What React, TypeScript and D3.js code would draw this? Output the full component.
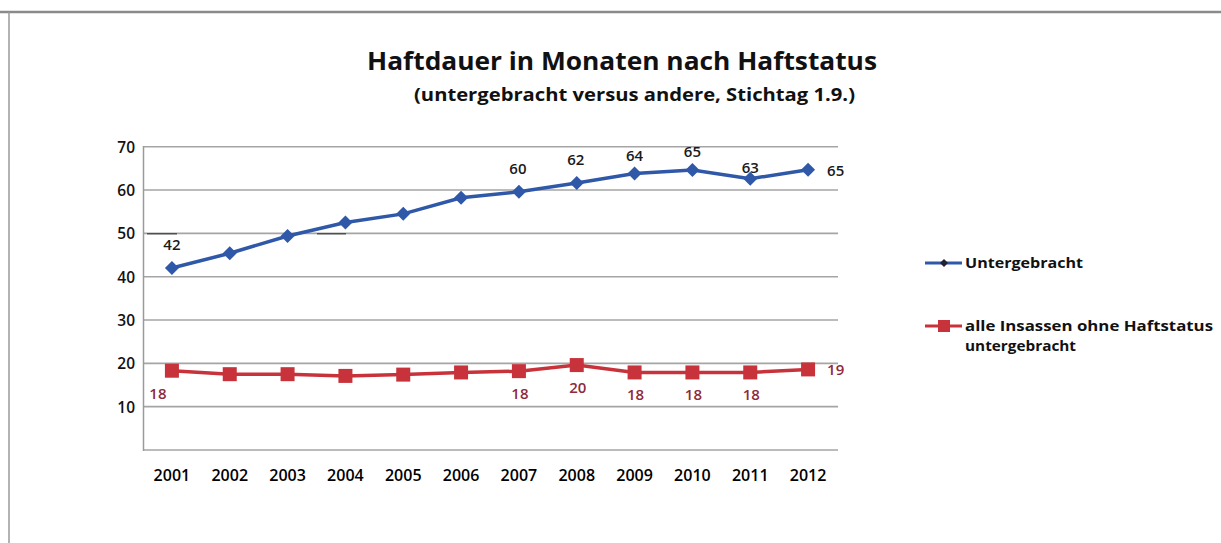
import React from "react";
import * as d3 from "d3";

const years = ["2001","2002","2003","2004","2005","2006","2007","2008","2009","2010","2011","2012"];
const untergebracht = [42, 45.4, 49.4, 52.5, 54.5, 58.2, 59.6, 61.6, 63.8, 64.6, 62.6, 64.7];
const andere = [18.3, 17.5, 17.5, 17.1, 17.4, 17.9, 18.2, 19.6, 17.9, 17.9, 17.9, 18.6];
const yTicks = [10, 20, 30, 40, 50, 60, 70];
const gridValues = [0, 10, 20, 30, 40, 50, 60, 70];
// labels: [index, text, placement]
const blueLabels: [number, string, string][] = [
  [0, "42", "aboveLeft"], [6, "60", "above"], [7, "62", "above"], [8, "64", "aboveHigh"],
  [9, "65", "aboveHigh"], [10, "63", "aboveClose"], [11, "65", "right"],
];
const redLabels: [number, string, string][] = [
  [0, "18", "belowLeft"], [6, "18", "below"], [7, "20", "belowClose"], [8, "18", "below"],
  [9, "18", "below"], [10, "18", "below"], [11, "19", "right"],
];
const title = "Haftdauer in Monaten nach Haftstatus";
const subtitle = "(untergebracht versus andere, Stichtag 1.9.)";
const legendBlue = "Untergebracht";
const legendRed = ["alle Insassen ohne Haftstatus", "untergebracht"];

const BLUE = "#2f58a8";
const RED = "#c8323a";
const RED_TEXT = "#8e2a3c";
const FONT = "'Open Sans', 'Noto Sans', sans-serif";

export default function App() {
  const x = d3.scaleBand<string>().domain(years).range([143, 837]);
  const y = d3.scaleLinear().domain([0, 70]).range([450, 146.7]);
  const cx = (i: number) => (x(years[i]) as number) + x.bandwidth() / 2;
  const line = d3.line<number>().x((_, i) => cx(i)).y((d) => y(d));

  const labelPos = (i: number, v: number, p: string) => {
    const px = cx(i), py = y(v);
    switch (p) {
      case "aboveLeft": return { x: px, y: py - 18, a: "middle" };
      case "above": return { x: px - 1, y: py - 18, a: "middle" };
      case "aboveHigh": return { x: px, y: py - 13, a: "middle" };
      case "aboveClose": return { x: px, y: py - 6, a: "middle" };
      case "right": return { x: px + 19, y: py + 6, a: "start" };
      case "belowLeft": return { x: px - 14, y: py + 28, a: "middle" };
      case "below": return { x: px + 1, y: py + 28, a: "middle" };
      case "belowClose": return { x: px + 1, y: py + 28, a: "middle" };
      default: return { x: px, y: py, a: "middle" };
    }
  };

  const diamond = (px: number, py: number, r: number) =>
    `M${px},${py - r}L${px + r},${py}L${px},${py + r}L${px - r},${py}Z`;

  return (
    <svg width={1221} height={543} style={{ position: "absolute", left: 0, top: 0, background: "#fff" }}>
      <rect x={0} y={0} width={1221} height={543} fill="#fff" />
      {/* frame */}
      <line x1={0} x2={1221} y1={12} y2={12} stroke="#8a8a8a" strokeWidth={2.5} />
      <line x1={9} x2={9} y1={12} y2={543} stroke="#9a9a9a" strokeWidth={1.5} />

      <text x={367} y={70} textLength={510} lengthAdjust="spacingAndGlyphs" fontFamily={FONT} fontWeight="bold" fontSize={25} fill="#111">{title}</text>
      <text x={414} y={101} textLength={441} lengthAdjust="spacingAndGlyphs" fontFamily={FONT} fontWeight="bold" fontSize={17} fill="#111">{subtitle}</text>

      {/* grid */}
      {gridValues.map((v) => (
        <line key={v} x1={143} x2={838} y1={y(v)} y2={y(v)} stroke="#a5a5a5" strokeWidth={1.6} />
      ))}
      <line x1={143.5} x2={143.5} y1={146} y2={451} stroke="#9a9a9a" strokeWidth={1.5} />
      {/* scan artifacts */}
      <line x1={147} x2={177} y1={y(50) + 0.5} y2={y(50) + 0.5} stroke="#222" strokeWidth={1} />
      <line x1={317} x2={346} y1={y(50) + 0.5} y2={y(50) + 0.5} stroke="#222" strokeWidth={1} />

      {yTicks.map((v) => (
        <text key={v} x={135} y={y(v) + 6} textAnchor="end" fontFamily={FONT} fontWeight={600} fontSize={15.5} fill="#111">{v}</text>
      ))}
      {years.map((yr, i) => (
        <text key={yr} x={cx(i)} y={481} textAnchor="middle" fontFamily={FONT} fontWeight={600} fontSize={16} fill="#000">{yr}</text>
      ))}

      {/* series */}
      <path d={line(untergebracht) as string} fill="none" stroke={BLUE} strokeWidth={3.5} />
      {untergebracht.map((v, i) => (
        <path key={i} d={diamond(cx(i), y(v), 7)} fill={BLUE} />
      ))}
      <path d={line(andere) as string} fill="none" stroke={RED} strokeWidth={3.5} />
      {andere.map((v, i) => (
        <rect key={i} x={cx(i) - 7} y={y(v) - 7} width={14} height={14} fill={RED} />
      ))}

      {blueLabels.map(([i, t, p]) => {
        const l = labelPos(i, untergebracht[i], p);
        return <text key={"b" + i} x={l.x} y={l.y} textAnchor={l.a as any} fontFamily={FONT} fontWeight={600} fontSize={15} fill="#1a1a1a">{t}</text>;
      })}
      {redLabels.map(([i, t, p]) => {
        const l = labelPos(i, andere[i], p);
        return <text key={"r" + i} x={l.x} y={l.y} textAnchor={l.a as any} fontFamily={FONT} fontWeight={600} fontSize={15} fill={RED_TEXT}>{t}</text>;
      })}

      {/* legend */}
      <line x1={925} x2={962} y1={263} y2={263} stroke={BLUE} strokeWidth={3} />
      <path d={diamond(944, 263, 4)} fill="#223" />
      <text x={965} y={268} textLength={118} lengthAdjust="spacingAndGlyphs" fontFamily={FONT} fontWeight="bold" fontSize={14} fill="#111">{legendBlue}</text>
      <line x1={925} x2={962} y1={326} y2={326} stroke={RED} strokeWidth={3} />
      <rect x={938} y={320} width={12} height={12} fill={RED} />
      <text x={965} y={331} textLength={248} lengthAdjust="spacingAndGlyphs" fontFamily={FONT} fontWeight="bold" fontSize={14} fill="#111">{legendRed[0]}</text>
      <text x={965} y={351} textLength={111} lengthAdjust="spacingAndGlyphs" fontFamily={FONT} fontWeight="bold" fontSize={14} fill="#111">{legendRed[1]}</text>
    </svg>
  );
}
